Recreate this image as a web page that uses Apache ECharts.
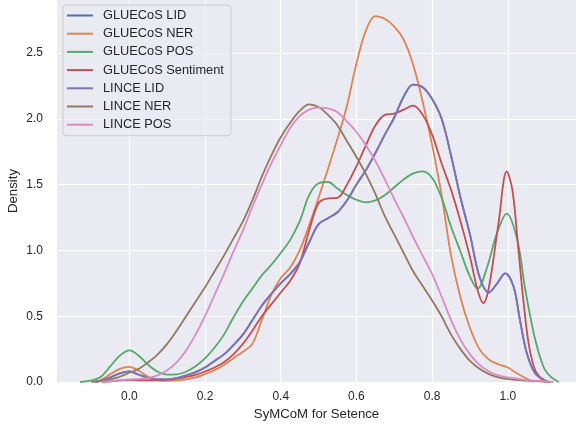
<!DOCTYPE html>
<html>
<head>
<meta charset="utf-8">
<script src="https://cdn.jsdelivr.net/npm/echarts@6/dist/echarts.min.js"></script>
<style>
  html, body { margin: 0; padding: 0; background: #ffffff; }
  #chart { width: 576px; height: 426px; }
</style>
</head>
<body>
<div id="chart"></div>
<script>
// kde curves, [x, density]
const seriesNames = ['GLUECoS LID', 'GLUECoS NER', 'GLUECoS POS', 'GLUECoS Sentiment', 'LINCE LID', 'LINCE NER', 'LINCE POS']
const colors = ['#4c72b0', '#dd8452', '#55a868', '#c44e52', '#8172b3', '#937860', '#da8bc3']
const xTicks = [0, 0.2, 0.4, 0.6, 0.8, 1.0]
const yTicks = [0, 0.5, 1.0, 1.5, 2.0, 2.5]

const linceLid = [[-0.09,0],[-0.075,0.01],[-0.05,0.035],[-0.025,0.065],[0,0.08],[0.025,0.055],[0.05,0.03],[0.075,0.02],[0.1,0.02],[0.125,0.03],[0.15,0.05],[0.175,0.075],[0.2,0.11],[0.225,0.16],[0.25,0.21],[0.275,0.28],[0.3,0.36],[0.325,0.47],[0.35,0.58],[0.375,0.67],[0.4,0.75],[0.425,0.82],[0.45,0.91],[0.475,1.06],[0.5,1.2],[0.525,1.245],[0.55,1.29],[0.575,1.38],[0.6,1.5],[0.625,1.61],[0.65,1.74],[0.675,1.88],[0.7,2.01],[0.725,2.17],[0.75,2.26],[0.775,2.24],[0.8,2.15],[0.825,2.0],[0.85,1.72],[0.875,1.4],[0.9,1.12],[0.925,0.8],[0.95,0.68],[0.972,0.75],[0.993,0.826],[1.015,0.725],[1.032,0.47],[1.05,0.22],[1.072,0.066],[1.1,0.01],[1.11,0]]
// GLUECoS LID sits exactly under LINCE LID in the picture
const glueLid = linceLid
const glueNer = [[-0.09,0],[-0.075,0.015],[-0.05,0.06],[-0.025,0.1],[0,0.115],[0.025,0.085],[0.05,0.04],[0.075,0.015],[0.1,0.01],[0.125,0.012],[0.15,0.02],[0.175,0.035],[0.2,0.06],[0.225,0.09],[0.25,0.13],[0.275,0.18],[0.3,0.23],[0.325,0.29],[0.35,0.47],[0.375,0.66],[0.4,0.79],[0.425,0.87],[0.45,1.0],[0.475,1.19],[0.5,1.4],[0.525,1.62],[0.55,1.85],[0.575,2.1],[0.6,2.42],[0.625,2.67],[0.65,2.78],[0.675,2.76],[0.7,2.7],[0.725,2.6],[0.75,2.41],[0.775,2.13],[0.8,1.8],[0.825,1.42],[0.85,0.96],[0.875,0.64],[0.9,0.41],[0.925,0.25],[0.95,0.17],[0.975,0.135],[1.0,0.11],[1.025,0.065],[1.05,0.025],[1.07,0]]
const gluePos = [[-0.13,0],[-0.1,0.012],[-0.075,0.04],[-0.05,0.12],[-0.025,0.2],[0,0.24],[0.025,0.2],[0.05,0.13],[0.075,0.078],[0.1,0.056],[0.125,0.058],[0.15,0.078],[0.175,0.12],[0.2,0.18],[0.225,0.26],[0.25,0.36],[0.275,0.49],[0.3,0.61],[0.325,0.71],[0.35,0.81],[0.375,0.89],[0.4,0.98],[0.425,1.08],[0.45,1.22],[0.475,1.42],[0.5,1.51],[0.525,1.52],[0.55,1.47],[0.575,1.42],[0.6,1.385],[0.625,1.365],[0.65,1.38],[0.675,1.42],[0.7,1.48],[0.725,1.54],[0.75,1.585],[0.775,1.6],[0.8,1.55],[0.825,1.4],[0.85,1.18],[0.875,0.99],[0.9,0.8],[0.92,0.71],[0.945,0.87],[0.97,1.12],[0.997,1.28],[1.025,1.08],[1.045,0.72],[1.07,0.35],[1.095,0.11],[1.115,0.035],[1.135,0]]
const glueSent = [[-0.07,0],[-0.05,0.005],[-0.025,0.012],[0,0.016],[0.025,0.014],[0.05,0.012],[0.075,0.012],[0.1,0.015],[0.125,0.025],[0.15,0.038],[0.175,0.055],[0.2,0.08],[0.225,0.11],[0.25,0.15],[0.275,0.21],[0.3,0.29],[0.325,0.39],[0.35,0.5],[0.375,0.59],[0.4,0.68],[0.425,0.77],[0.45,0.9],[0.475,1.15],[0.5,1.36],[0.525,1.395],[0.55,1.4],[0.575,1.5],[0.6,1.64],[0.625,1.8],[0.65,1.95],[0.675,2.03],[0.7,2.04],[0.725,2.07],[0.75,2.1],[0.775,2.03],[0.8,1.88],[0.825,1.66],[0.85,1.46],[0.875,1.22],[0.9,0.95],[0.92,0.7],[0.935,0.6],[0.95,0.72],[0.975,1.2],[0.997,1.6],[1.012,1.46],[1.028,1.0],[1.041,0.62],[1.055,0.29],[1.072,0.09],[1.09,0.02],[1.1,0]]
const linceNer = [[-0.1,0],[-0.075,0.008],[-0.05,0.02],[-0.025,0.04],[0,0.07],[0.025,0.1],[0.05,0.15],[0.075,0.21],[0.1,0.29],[0.125,0.39],[0.15,0.5],[0.175,0.61],[0.2,0.72],[0.225,0.84],[0.25,0.96],[0.275,1.09],[0.3,1.22],[0.325,1.38],[0.35,1.56],[0.375,1.72],[0.4,1.86],[0.425,1.97],[0.45,2.06],[0.475,2.11],[0.5,2.09],[0.525,2.03],[0.55,1.95],[0.575,1.83],[0.6,1.71],[0.625,1.58],[0.65,1.43],[0.675,1.26],[0.7,1.12],[0.725,0.98],[0.75,0.84],[0.775,0.73],[0.8,0.62],[0.825,0.5],[0.85,0.36],[0.875,0.25],[0.9,0.16],[0.925,0.1],[0.95,0.06],[0.975,0.035],[1.0,0.022],[1.05,0.01],[1.11,0]]
const lincePos = [[-0.075,0],[-0.05,0.005],[-0.025,0.012],[0,0.02],[0.025,0.022],[0.05,0.03],[0.075,0.05],[0.1,0.09],[0.125,0.15],[0.15,0.24],[0.175,0.36],[0.2,0.5],[0.225,0.66],[0.25,0.82],[0.275,0.99],[0.3,1.15],[0.325,1.33],[0.35,1.5],[0.375,1.66],[0.4,1.8],[0.425,1.93],[0.45,2.02],[0.475,2.07],[0.5,2.085],[0.525,2.08],[0.55,2.05],[0.575,1.98],[0.6,1.9],[0.625,1.8],[0.65,1.68],[0.675,1.54],[0.7,1.39],[0.725,1.25],[0.75,1.1],[0.775,0.96],[0.8,0.82],[0.825,0.65],[0.85,0.47],[0.875,0.32],[0.9,0.21],[0.925,0.13],[0.95,0.08],[0.975,0.05],[1.0,0.035],[1.05,0.015],[1.1,0.005],[1.12,0]]

const curves = [glueLid, glueNer, gluePos, glueSent, linceLid, linceNer, lincePos]

const font = "'Liberation Sans', Arial, sans-serif"
const ink = '#262626'

var myChart = echarts.init(document.getElementById('chart'), null, { renderer: 'canvas' })
var option = {
  animation: false,
  backgroundColor: '#ffffff',
  grid: {
    left: 57, right: 0, top: 0, bottom: 44,
    containLabel: false,
    outerBoundsMode: 'none',
    show: true, backgroundColor: '#eaeaf2', borderWidth: 0
  },
  legend: {
    orient: 'vertical',
    left: 63, top: 5,
    data: seriesNames,
    icon: 'rect',
    itemWidth: 26, itemHeight: 2,
    itemGap: 4.2,
    padding: [3.5, 7, 4, 4],
    backgroundColor: 'rgba(234,234,242,0.8)',
    borderColor: '#cccccc', borderWidth: 1, borderRadius: 3,
    textStyle: { fontFamily: font, fontSize: 12.8, color: ink, lineHeight: 14, padding: [0, 0, 0, 5] }
  },
  xAxis: {
    type: 'value',
    min: -0.191, max: 1.18,
    name: 'SyMCoM for Setence',
    nameLocation: 'middle', nameGap: 26,
    nameMoveOverlap: false,
    nameTextStyle: { fontFamily: font, fontSize: 13.2, color: ink },
    axisLine: { show: false },
    axisTick: { show: false, customValues: xTicks },
    axisLabel: {
      customValues: xTicks, margin: 9,
      fontFamily: font, fontSize: 12, color: ink,
      formatter: v => v.toFixed(1)
    },
    splitLine: { show: true, lineStyle: { color: '#ffffff', width: 1.2 } }
  },
  yAxis: {
    type: 'value',
    min: 0, max: 2.903,
    name: 'Density',
    nameLocation: 'middle', nameGap: 37,
    nameMoveOverlap: false,
    nameTextStyle: { fontFamily: font, fontSize: 13.2, color: ink },
    axisLine: { show: false },
    axisTick: { show: false, customValues: yTicks },
    axisLabel: { customValues: yTicks, margin: 14, fontFamily: font, fontSize: 12, color: ink, formatter: v => v.toFixed(1) },
    splitLine: { show: true, lineStyle: { color: '#ffffff', width: 1.2 } }
  },
  series: seriesNames.map((name, i) => ({
    name: name,
    type: 'line',
    data: curves[i],
    smooth: 0.35,
    showSymbol: false,
    symbol: 'none',
    color: colors[i],
    lineStyle: { width: 1.8, color: colors[i] }
  }))
}
myChart.setOption(option)
</script>
</body>
</html>
